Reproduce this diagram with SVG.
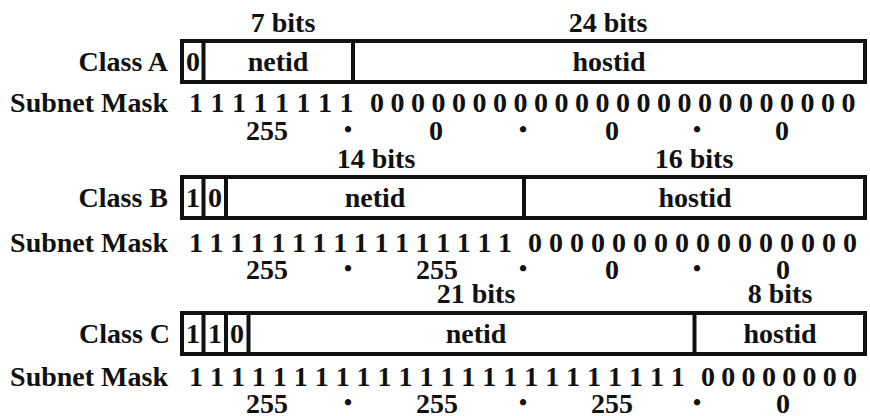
<svg xmlns="http://www.w3.org/2000/svg" width="870" height="416" viewBox="0 0 870 416">
  <style>
    text { font-family: "Liberation Serif", "Times New Roman", serif; font-weight: bold; font-size: 28px; fill: #111; }
    .mid { text-anchor: middle; }
    .end { text-anchor: end; }
    .dot { font-size: 23px; text-anchor: middle; }
    .frame { fill: #fff; stroke: #111; stroke-width: 4; }
    .div { stroke: #111; stroke-width: 4; }
  </style>
  <rect width="870" height="416" fill="#fff"/>

  <!-- Class A: 1-bit prefix, 7-bit netid, 24-bit hostid -->
  <g id="class-a">
    <text class="mid" x="283" y="32">7 bits</text>
    <text class="mid" x="608" y="32">24 bits</text>
    <text class="end" x="168" y="71">Class A</text>
    <rect class="frame" x="182" y="41" width="683" height="41"/>
    <line class="div" x1="203.5" y1="41" x2="203.5" y2="82"/>
    <line class="div" x1="353" y1="41" x2="353" y2="82"/>
    <text class="mid" x="193" y="71">0</text>
    <text class="mid" x="278" y="71">netid</text>
    <text class="mid" x="609" y="71">hostid</text>
    <text class="end" x="168" y="112">Subnet Mask</text>
    <text class="mid" x="196 217.5 239 260.5 282 303.5 325 346.5" y="112">11111111</text>
    <text class="mid" x="377 397.5 418 438.5 459 479.5 500 520.5 541 561.5 582 602.5 623 643.5 664 684.5 705 725.5 746 766.5 787 807.5 828 848.5" y="112">000000000000000000000000</text>
    <text class="mid" x="267" y="140">255</text>
    <text class="dot" x="348" y="137">•</text>
    <text class="mid" x="436" y="140">0</text>
    <text class="dot" x="523" y="137">•</text>
    <text class="mid" x="612" y="140">0</text>
    <text class="dot" x="697" y="137">•</text>
    <text class="mid" x="782" y="140">0</text>
  </g>

  <!-- Class B: 2-bit prefix, 14-bit netid, 16-bit hostid -->
  <g id="class-b">
    <text class="mid" x="376" y="168">14 bits</text>
    <text class="mid" x="694" y="168">16 bits</text>
    <text class="end" x="168" y="207">Class B</text>
    <rect class="frame" x="182" y="177" width="683" height="41"/>
    <line class="div" x1="203.5" y1="177" x2="203.5" y2="218"/>
    <line class="div" x1="226" y1="177" x2="226" y2="218"/>
    <line class="div" x1="524" y1="177" x2="524" y2="218"/>
    <text class="mid" x="193" y="207">1</text>
    <text class="mid" x="215" y="207">0</text>
    <text class="mid" x="375" y="207">netid</text>
    <text class="mid" x="695" y="207">hostid</text>
    <text class="end" x="168" y="252">Subnet Mask</text>
    <text class="mid" x="196 216.6 237.2 257.8 278.4 299 319.6 340.2 360.8 381.4 402 422.6 443.2 463.8 484.4 505" y="252">1111111111111111</text>
    <text class="mid" x="535 556 577 598 619 640 661 682 703 724 745 766 787 808 829 850" y="252">0000000000000000</text>
    <text class="mid" x="267" y="279">255</text>
    <text class="dot" x="348" y="276">•</text>
    <text class="mid" x="437" y="279">255</text>
    <text class="dot" x="523" y="276">•</text>
    <text class="mid" x="612" y="279">0</text>
    <text class="dot" x="697" y="276">•</text>
    <text class="mid" x="783" y="279">0</text>
  </g>

  <!-- Class C: 3-bit prefix, 21-bit netid, 8-bit hostid -->
  <g id="class-c">
    <text class="mid" x="476" y="303">21 bits</text>
    <text class="mid" x="780" y="303">8 bits</text>
    <text class="end" x="170" y="343">Class C</text>
    <rect class="frame" x="182" y="313" width="683" height="41"/>
    <line class="div" x1="203.5" y1="313" x2="203.5" y2="354"/>
    <line class="div" x1="226" y1="313" x2="226" y2="354"/>
    <line class="div" x1="248.5" y1="313" x2="248.5" y2="354"/>
    <line class="div" x1="694.5" y1="313" x2="694.5" y2="354"/>
    <text class="mid" x="193" y="343">1</text>
    <text class="mid" x="215" y="343">1</text>
    <text class="mid" x="237" y="343">0</text>
    <text class="mid" x="476" y="343">netid</text>
    <text class="mid" x="780" y="343">hostid</text>
    <text class="end" x="168" y="386">Subnet Mask</text>
    <text class="mid" x="196 216.95 237.9 258.85 279.8 300.75 321.7 342.65 363.6 384.55 405.5 426.45 447.4 468.35 489.3 510.25 531.2 552.15 573.1 594.05 615 635.95 656.9 677.85" y="386">111111111111111111111111</text>
    <text class="mid" x="708 728.3 748.6 768.9 789.2 809.5 829.8 850.1" y="386">00000000</text>
    <text class="mid" x="267" y="413">255</text>
    <text class="dot" x="348" y="410">•</text>
    <text class="mid" x="437" y="413">255</text>
    <text class="dot" x="523" y="410">•</text>
    <text class="mid" x="612" y="413">255</text>
    <text class="dot" x="697" y="410">•</text>
    <text class="mid" x="783" y="413">0</text>
  </g>
</svg>
